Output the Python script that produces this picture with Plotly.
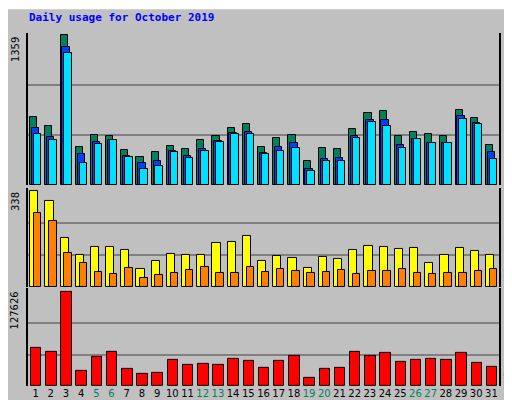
import plotly.graph_objects as go

days = list(range(1, 32))
hits = [619,538,1359,347,456,447,320,257,302,356,329,411,447,519,556,347,429,456,220,338,329,510,655,673,447,483,465,447,683,610,365]
files = [519,438,1253,284,393,411,266,202,220,311,266,329,402,474,483,293,347,384,148,239,248,447,592,592,365,420,384,384,628,565,302]
pages = [465,411,1199,202,374,411,257,148,175,302,248,311,393,465,465,284,311,338,130,220,220,429,574,538,338,420,384,384,601,556,239]
visits = [338,305,174,113,142,142,131,65,91,116,113,113,156,160,182,94,109,102,69,105,98,131,145,142,134,138,84,113,138,127,113]
sites = [262,233,120,84,54,47,69,33,44,51,62,73,51,51,73,54,65,58,51,54,62,47,58,58,65,51,47,51,51,58,65]
kbytes = [51968,46400,127626,19952,39440,46400,22736,15776,17168,35264,28304,29696,28304,36656,33872,24128,33872,40832,11600,22736,24128,46400,40832,45008,32480,35264,36656,35264,45008,31088,25520]
weekends = [5,6,12,13,19,20,26,27]

fig = go.Figure()
def bar(y, color, off, w, ya):
    fig.add_trace(go.Bar(x=days, y=y, offset=off, width=w, marker=dict(color=color, line=dict(color='black', width=1)), yaxis=ya, xaxis='x'))

bar(hits, '#00805C', -0.36, 0.47, 'y')
bar(files, '#0040FF', -0.24, 0.48, 'y')
bar(pages, '#00E0FF', -0.11, 0.49, 'y')
bar(visits, '#FFFF00', -0.36, 0.54, 'y2')
bar(sites, '#FF8000', -0.11, 0.49, 'y2')
bar(kbytes, '#FF0000', -0.31, 0.69, 'y3')

ticktext = [f'<span style="color:#00805C">{d}</span>' if d in weekends else str(d) for d in days]

def yax(dom, mx, top):
    return dict(domain=dom, range=[0, top], tickvals=[mx/3, 2*mx/3], showticklabels=False,
                showgrid=True, gridcolor='#808080', gridwidth=1.5, zeroline=False,
                showline=True, linecolor='black', linewidth=1.5, mirror=True, fixedrange=True)

fig.update_layout(
    width=512, height=400, barmode='overlay', showlegend=False,
    paper_bgcolor='#C0C0C0', plot_bgcolor='#C0C0C0', bargap=0,
    margin=dict(l=20, r=21, t=25, b=22, autoexpand=False),
    xaxis=dict(range=[0.5, 31.5], tickvals=days, ticktext=ticktext, anchor='y3', tickangle=0,
               showline=False, showgrid=False, ticks='', automargin=False,
               tickfont=dict(family='DejaVu Sans', size=10, color='black')),
    yaxis=yax([0.569, 1], 1359, 1377),
    yaxis2=yax([0.28, 0.561], 338, 350),
    yaxis3=yax([0, 0.278], 127626, 132730),
    font=dict(family='DejaVu Sans Mono'),
)

fig.add_annotation(text='<b>Daily usage for October 2019</b>', xref='paper', yref='paper', x=-0.002, y=1.045,
                   xanchor='left', yanchor='middle', showarrow=False, font=dict(color='#0000FF', size=11, family='DejaVu Sans Mono'))
for txt, yv in [('1359', 1.0), ('338', 0.561), ('127626', 0.278)]:
    fig.add_annotation(text=txt, xref='paper', yref='paper', x=-0.012, y=yv - 0.005, xanchor='right', yanchor='top',
                       textangle=-90, showarrow=False, font=dict(family='DejaVu Sans', size=10, color='black'))
side = [
    ('<span style="color:#00C8FF">Pages</span> / <span style="color:#0040FF">Files</span> / <span style="color:#00805C">Hits</span>', 0.79),
    ('<span style="color:#FF8000">Sites</span> / <span style="color:#E0E000">Visits</span>', 0.42),
    ('<span style="color:#FF0000">KBytes</span>', 0.06),
]
for txt, yv in side:
    fig.add_annotation(text=txt, xref='paper', yref='paper', x=1.005, y=yv, xanchor='left', yanchor='middle',
                       textangle=-90, showarrow=False, font=dict(family='DejaVu Sans Mono', size=10))
# bevel frame
fig.add_shape(type='line', xref='paper', yref='paper', x0=-0.045, x1=1.045, y0=-0.06, y1=-0.06, line=dict(color='#808080', width=4))
fig.add_shape(type='line', xref='paper', yref='paper', x0=1.045, x1=1.045, y0=-0.06, y1=1.07, line=dict(color='#808080', width=4))
fig.add_shape(type='line', xref='paper', yref='paper', x0=-0.045, x1=1.045, y0=1.07, y1=1.07, line=dict(color='white', width=2))
fig.add_shape(type='line', xref='paper', yref='paper', x0=-0.045, x1=-0.045, y0=-0.06, y1=1.07, line=dict(color='white', width=2))

fig.write_html('out.html')
